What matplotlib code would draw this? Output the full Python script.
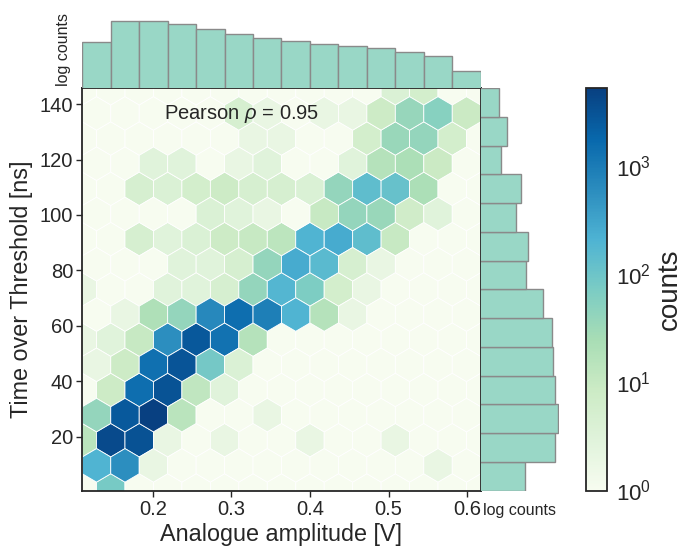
import numpy as np
import matplotlib
matplotlib.use("Agg")
import matplotlib.pyplot as plt

plt.rcParams['font.family'] = ['Liberation Sans', 'DejaVu Sans']
plt.rcParams['mathtext.fontset'] = 'custom'
plt.rcParams['mathtext.rm'] = 'Liberation Sans'
plt.rcParams['mathtext.it'] = 'Liberation Sans:italic'

# ---------------- data ----------------
x_range = (0.1105, 0.617)      # Analogue amplitude [V]
y_range = (0.6, 145.7)         # Time over Threshold [ns]
gridsize = 14

# hexbin counts, lattice 1 (cells centred on grid nodes), rows bottom -> top
lattice1_counts = [
    [1, 80, 1, 1, 1, 1, 1, 1, 1, 1, 1, 1, 1, 1, 1],
    [15, 4000, 3300, 2, 1, 2, 1, 1, 2, 1, 1, 2, 1, 1, 1],
    [1, 8, 1500, 3200, 12, 3, 1, 1, 1, 1, 1, 1, 1, 1, 1],
    [2, 3, 10, 600, 2800, 1300, 17, 1, 1, 1, 1, 1, 1, 1, 1],
    [2, 1, 1, 3, 3, 5, 40, 180, 70, 6, 2, 1, 1, 1, 1],
    [1, 1, 5, 3, 4, 8, 10, 14, 200, 260, 140, 10, 1, 1, 1],
    [1, 1, 5, 4, 6, 8, 5, 5, 4, 40, 140, 120, 22, 1, 1],
    [1, 1, 1, 1, 1, 1, 2, 2, 1, 1, 6, 35, 40, 6, 1],
    [1, 1, 1, 1, 1, 1, 1, 1, 1, 1, 1, 4, 6, 1, 1],
]
# hexbin counts, lattice 2 (cells centred between grid nodes), rows bottom -> top
lattice2_counts = [
    [200, 600, 2, 1, 1, 1, 1, 1, 1, 1, 1, 1, 2, 1],
    [40, 2700, 5300, 15, 1, 1, 2, 1, 1, 1, 1, 1, 1, 1],
    [2, 8, 1400, 3000, 85, 4, 1, 1, 1, 1, 1, 1, 1, 1],
    [1, 2, 20, 40, 700, 1500, 900, 200, 17, 2, 1, 1, 1, 1],
    [1, 1, 1, 3, 3, 5, 40, 260, 160, 5, 2, 1, 1, 1],
    [1, 1, 1, 1, 4, 3, 2, 1, 10, 40, 35, 7, 3, 1],
    [1, 1, 3, 3, 1, 2, 3, 1, 1, 3, 17, 22, 9, 1],
    [1, 1, 1, 1, 1, 5, 2, 1, 2, 2, 8, 38, 55, 9],
]

# marginal histograms (14 bins each), log counts
amp_hist_counts = [620, 3776, 3981, 2894, 1858, 1259, 883, 660, 519, 424, 364, 256, 170, 45]
tot_hist_counts = [519, 7015, 9660, 7396, 6200, 5675, 2557, 538, 677, 222, 345, 59, 105, 52]

pearson_rho = 0.95

# ---------------- figure ----------------
W, H = 686, 550
fig = plt.figure(figsize=(W / 100, H / 100), dpi=100)

def fa(x0, y0, x1, y1):
    return [x0 / W, 1 - y1 / H, (x1 - x0) / W, (y1 - y0) / H]

main_l, main_r, main_t, main_b = 82.3, 480.7, 88.3, 490.5
ax = fig.add_axes(fa(main_l, main_t, main_r, main_b))
ax_top = fig.add_axes(fa(main_l, main_t - 78, main_r, main_t))
ax_right = fig.add_axes(fa(main_r, main_t, main_r + 78, main_b))
cax = fig.add_axes(fa(585.5, main_t, 606.5, main_b))

dark = '#262626'

# hex cell centres from the hexbin lattice geometry
nx = gridsize
ny = int(nx / np.sqrt(3))
sx = (x_range[1] - x_range[0]) / nx
sy = (y_range[1] - y_range[0]) / ny
c1 = np.array(lattice1_counts, dtype=float)
c2 = np.array(lattice2_counts, dtype=float)
j1, i1 = np.mgrid[0:ny + 1, 0:nx + 1]
j2, i2 = np.mgrid[0:ny, 0:nx]
hx = np.concatenate([x_range[0] + i1.ravel() * sx, x_range[0] + (i2.ravel() + 0.5) * sx])
hy = np.concatenate([y_range[0] + j1.ravel() * sy, y_range[0] + (j2.ravel() + 0.5) * sy])
hc = np.concatenate([c1.ravel(), c2.ravel()])

hb = ax.hexbin(hx, hy, C=hc, reduce_C_function=np.sum, gridsize=gridsize,
               extent=(x_range[0], x_range[1], y_range[0], y_range[1]),
               bins='log', cmap='GnBu', edgecolors='white', linewidths=0.6)
ax.set_xlim(*x_range)
ax.set_ylim(*y_range)
ax.set_xticks([0.2, 0.3, 0.4, 0.5, 0.6])
ax.set_yticks([20, 40, 60, 80, 100, 120, 140])
ax.tick_params(direction='out', length=4, width=1, color=dark, labelcolor=dark,
               labelsize=14.5, pad=2.5)
for s in ax.spines.values():
    s.set_color(dark)
    s.set_linewidth(1.3)
ax.set_xlabel('Analogue amplitude [V]', fontsize=16.8, color=dark, labelpad=3)
ax.set_ylabel('Time over Threshold [ns]', fontsize=16.8, color=dark, labelpad=5)
ax.text(0.40, 0.936, r'Pearson $\rho$ = %.2f' % pearson_rho, transform=ax.transAxes,
        ha='center', va='center', fontsize=14.5, color=dark)

# marginal histograms
bar_color = '#99d7c6'
bar_edge = '#8a8a8a'
xedges = np.linspace(x_range[0], x_range[1], len(amp_hist_counts) + 1)
yedges = np.linspace(y_range[0], y_range[1], len(tot_hist_counts) + 1)
ax_top.bar(xedges[:-1], amp_hist_counts, width=np.diff(xedges), align='edge',
           color=bar_color, edgecolor=bar_edge, linewidth=1)
ax_top.set_yscale('log')
ax_top.set_xlim(*x_range)
ax_top.set_ylim(10, 1e4)
ax_right.barh(yedges[:-1], tot_hist_counts, height=np.diff(yedges), align='edge',
              color=bar_color, edgecolor=bar_edge, linewidth=1)
ax_right.set_xscale('log')
ax_right.set_ylim(*y_range)
ax_right.set_xlim(10, 1e4)
for a in (ax_top, ax_right):
    for s in a.spines.values():
        s.set_visible(False)
    a.tick_params(which='both', left=False, bottom=False, labelleft=False, labelbottom=False)
    a.set_facecolor('none')
ax_top.set_ylabel('log counts', fontsize=11.5, color=dark, labelpad=8)
ax_right.set_xlabel('log counts', fontsize=11.5, color=dark, labelpad=9)

# colorbar
cb = fig.colorbar(hb, cax=cax)
cb.outline.set_edgecolor(dark)
cb.outline.set_linewidth(1.3)
cax.tick_params(which='both', length=0, labelsize=16, labelcolor=dark, pad=7)
cb.set_label('counts', fontsize=20, color=dark, labelpad=4)

fig.savefig('out.png', dpi=100)
